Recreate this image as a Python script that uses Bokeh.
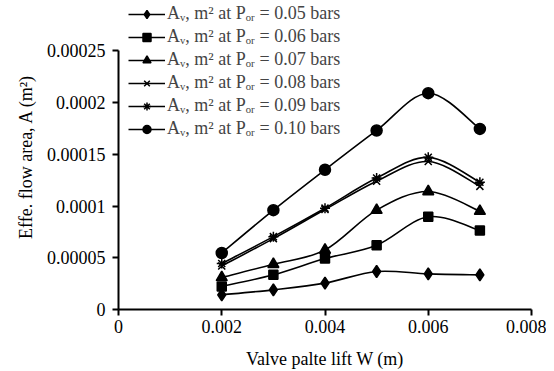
import numpy as np
from bokeh.plotting import figure
from bokeh.models import Range1d, FixedTicker, Legend, LegendItem, ColumnDataSource
from bokeh.embed import file_html
from bokeh.resources import INLINE

# ---- data ----
lift = [0.002, 0.003, 0.004, 0.005, 0.006, 0.007]
a_005 = [1.42e-5, 1.90e-5, 2.55e-5, 3.67e-5, 3.44e-5, 3.35e-5]
a_006 = [2.23e-5, 3.35e-5, 4.92e-5, 6.20e-5, 8.96e-5, 7.64e-5]
a_007 = [3.10e-5, 4.37e-5, 5.75e-5, 9.60e-5, 1.14e-4, 9.50e-5]
a_008 = [4.20e-5, 6.85e-5, 9.66e-5, 1.24e-4, 1.43e-4, 1.19e-4]
a_009 = [4.44e-5, 7.04e-5, 9.79e-5, 1.27e-4, 1.47e-4, 1.23e-4]
a_010 = [5.46e-5, 9.60e-5, 1.35e-4, 1.73e-4, 2.09e-4, 1.745e-4]
pressures = ["0.05", "0.06", "0.07", "0.08", "0.09", "0.10"]
x_ticks = [0, 0.002, 0.004, 0.006, 0.008]
x_tick_labels = ["0", "0.002", "0.004", "0.006", "0.008"]
y_ticks = [0, 0.00005, 0.0001, 0.00015, 0.0002, 0.00025]
y_tick_labels = ["0", "0.00005", "0.0001", "0.00015", "0.0002", "0.00025"]

series = [a_005, a_006, a_007, a_008, a_009, a_010]
markers = ["diamond", "square", "triangle", "x", "asterisk", "circle"]
sizes = [12, 9, 11, 10, 10, 11]

FONT = "Liberation Serif"

# frame spans 3..310.5 px; axis max 0.00025 sits 47.5 px below frame top
y_axis_max = y_ticks[-1]
y_view_top = y_axis_max * 307.5 / 260.0

p = figure(width=546, height=371, output_backend="svg", toolbar_location=None,
           x_range=Range1d(0, x_ticks[-1]), y_range=Range1d(0, y_view_top),
           min_border_left=118, min_border_right=15, min_border_top=3,
           min_border_bottom=60)
p.outline_line_color = None
p.grid.visible = False
p.background_fill_color = "white"

def smooth_segments(x, y):
    x = np.asarray(x, float)
    y = np.asarray(y, float)
    xp = np.concatenate([[x[0]], x, [x[-1]]])
    yp = np.concatenate([[y[0]], y, [y[-1]]])
    d = dict(x0=[], y0=[], x1=[], y1=[], cx0=[], cy0=[], cx1=[], cy1=[])
    for i in range(len(x) - 1):
        a, b, c, e = i, i + 1, i + 2, i + 3
        d["x0"].append(xp[b]); d["y0"].append(yp[b])
        d["x1"].append(xp[c]); d["y1"].append(yp[c])
        d["cx0"].append(xp[b] + (xp[c] - xp[a]) / 6)
        d["cy0"].append(yp[b] + (yp[c] - yp[a]) / 6)
        d["cx1"].append(xp[c] - (xp[e] - xp[b]) / 6)
        d["cy1"].append(yp[c] - (yp[e] - yp[b]) / 6)
    return d

items = []
for vals, mk, sz, pr in zip(series, markers, sizes, pressures):
    seg = ColumnDataSource(smooth_segments(lift, vals))
    r1 = p.bezier(x0="x0", y0="y0", x1="x1", y1="y1", cx0="cx0", cy0="cy0",
                  cx1="cx1", cy1="cy1", source=seg, line_color="black", line_width=1.6)
    r2 = p.scatter(lift, vals, marker=mk, size=sz, fill_color="black",
                   line_color="black", line_width=1.5)
    items.append(LegendItem(label="A\u1d65, m\u00b2 at P\u2092\u1d63 = %s bars" % pr,
                            renderers=[r1, r2]))

legend = Legend(items=items, location=(10, 170), padding=0, margin=0, spacing=2,
                glyph_width=37, glyph_height=20, label_height=20, label_standoff=2,
                label_text_font=FONT, label_text_font_size="18px",
                border_line_color=None, background_fill_alpha=0)
p.add_layout(legend)

for ax in (p.xaxis[0], p.yaxis[0]):
    ax.axis_line_width = 2
    ax.axis_line_color = "black"
    ax.major_tick_line_width = 2
    ax.major_tick_out = 6
    ax.major_tick_in = 0
    ax.minor_tick_out = 0
    ax.minor_tick_in = 0
    ax.major_label_text_font = FONT
    ax.major_label_text_font_size = "18px"
    ax.major_label_text_color = "black"
    ax.axis_label_text_font = FONT
    ax.axis_label_text_font_size = "18px"
    ax.axis_label_text_font_style = "normal"
    ax.axis_label_text_color = "black"

p.xaxis.major_label_standoff = 4
p.yaxis.major_label_standoff = 7
p.yaxis.bounds = (0, y_axis_max)
p.xaxis.ticker = FixedTicker(ticks=x_ticks)
p.xaxis.major_label_overrides = dict(zip(x_ticks, x_tick_labels))
p.yaxis.ticker = FixedTicker(ticks=y_ticks)
p.yaxis.major_label_overrides = dict(zip(y_ticks, y_tick_labels))
p.xaxis.axis_label = "Valve palte lift W (m)"
p.yaxis.axis_label = "Effe. flow area, A (m\u00b2)"
p.xaxis.axis_label_standoff = 13
p.yaxis.axis_label_standoff = 8

open("out.html", "w").write(file_html(p, INLINE))
